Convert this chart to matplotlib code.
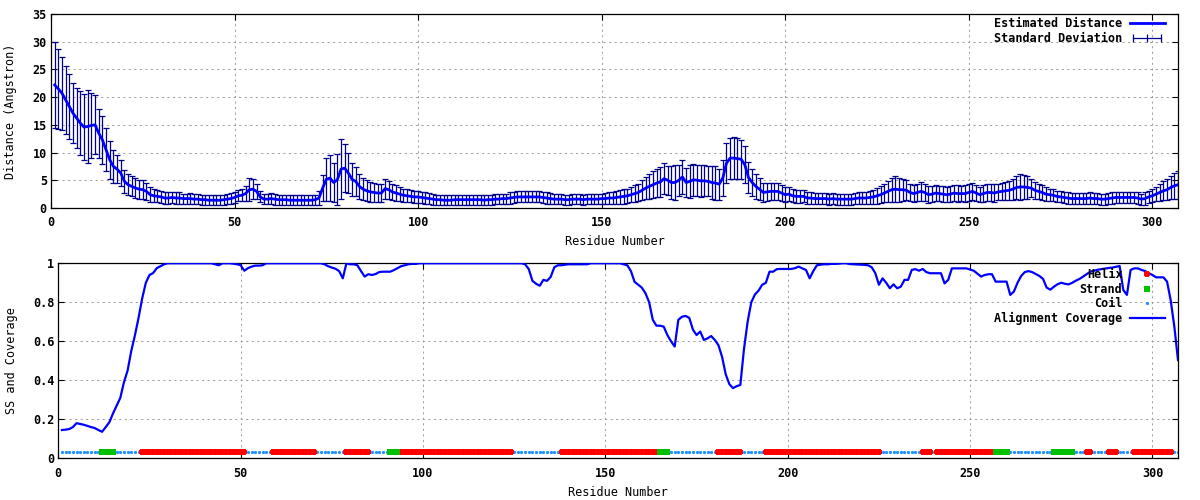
import numpy as np
import matplotlib
matplotlib.use("Agg")
import matplotlib.pyplot as plt
from matplotlib.lines import Line2D
from matplotlib.legend_handler import HandlerLine2D
from matplotlib.ticker import FuncFormatter, MultipleLocator

plt.rcParams['font.family'] = ['DejaVu Sans Mono']
plt.rcParams['font.weight'] = 'bold'
plt.rcParams['font.size'] = 8.5

# estimated distance per residue (Angstrom), residues 1..307
distance = [
    22.2, 21.5, 20.7, 19.5, 18.3, 17.1, 16.2, 15.3, 14.6, 14.7,
    14.9, 15.0, 13.5, 12.3, 10.5, 8.7, 7.5, 7.0, 6.3, 4.8,
    4.2, 3.9, 3.6, 3.4, 3.3, 3.0, 2.4, 2.2, 2.1, 2.0,
    1.8, 1.8, 1.9, 1.8, 1.8, 1.7, 1.7, 1.7, 1.6, 1.6,
    1.5, 1.5, 1.4, 1.4, 1.4, 1.4, 1.5, 1.6, 1.7, 1.9,
    2.2, 2.3, 2.6, 3.3, 3.4, 3.0, 2.0, 1.6, 1.6, 1.7,
    1.6, 1.5, 1.5, 1.5, 1.4, 1.4, 1.4, 1.4, 1.4, 1.4,
    1.4, 1.5, 1.8, 3.6, 5.2, 5.4, 4.6, 5.1, 7.0, 7.2,
    6.3, 5.2, 4.8, 3.9, 3.4, 3.1, 2.9, 2.8, 2.7, 2.7,
    3.5, 3.3, 2.9, 2.7, 2.5, 2.3, 2.2, 2.1, 2.0, 2.0,
    1.9, 1.8, 1.7, 1.6, 1.5, 1.5, 1.4, 1.4, 1.4, 1.5,
    1.5, 1.5, 1.5, 1.5, 1.5, 1.5, 1.5, 1.4, 1.5, 1.5,
    1.6, 1.6, 1.7, 1.7, 1.8, 1.9, 2.0, 2.0, 2.0, 2.0,
    2.0, 2.0, 2.0, 1.9, 1.8, 1.7, 1.6, 1.6, 1.6, 1.5,
    1.5, 1.6, 1.6, 1.6, 1.5, 1.6, 1.6, 1.6, 1.6, 1.7,
    1.7, 1.8, 1.8, 1.9, 2.0, 2.1, 2.2, 2.4, 2.6, 2.8,
    3.2, 3.6, 3.9, 4.2, 4.5, 4.7, 5.3, 5.0, 4.6, 4.6,
    5.0, 5.6, 4.6, 4.8, 5.1, 5.0, 4.9, 4.9, 4.8, 4.6,
    4.5, 4.3, 5.4, 8.1, 9.0, 9.0, 8.9, 8.8, 7.8, 5.5,
    4.6, 3.9, 3.4, 2.8, 2.9, 3.0, 3.0, 3.0, 2.7, 2.4,
    2.5, 2.2, 2.1, 2.1, 2.1, 1.8, 1.8, 1.7, 1.7, 1.7,
    1.7, 1.6, 1.7, 1.6, 1.6, 1.6, 1.6, 1.6, 1.7, 1.8,
    1.8, 1.8, 1.9, 2.0, 2.2, 2.4, 2.7, 3.0, 3.3, 3.4,
    3.3, 3.3, 3.2, 2.8, 2.6, 2.8, 3.0, 2.8, 2.4, 2.5,
    2.7, 2.6, 2.5, 2.4, 2.5, 2.7, 2.6, 2.6, 2.6, 2.8,
    3.0, 2.7, 2.4, 2.6, 2.8, 2.8, 2.7, 2.9, 3.0, 3.1,
    3.2, 3.4, 3.7, 3.8, 3.8, 3.7, 3.6, 3.2, 3.0, 2.8,
    2.5, 2.4, 2.3, 2.1, 2.0, 1.9, 1.8, 1.7, 1.7, 1.7,
    1.7, 1.7, 1.8, 1.7, 1.7, 1.6, 1.6, 1.7, 1.8, 1.9,
    1.9, 1.9, 1.9, 1.9, 1.9, 1.8, 1.6, 1.7, 2.0, 2.2,
    2.5, 2.8, 3.1, 3.3, 3.7, 4.0, 4.2,
]

# standard deviation per residue
std_dev = [
    7.7, 7.2, 6.6, 6.1, 5.9, 5.4, 5.4, 5.8, 5.9, 6.6,
    5.9, 5.3, 4.4, 4.3, 3.9, 3.4, 3.0, 2.5, 2.4, 2.1,
    1.9, 1.8, 1.8, 1.7, 1.7, 1.5, 1.3, 1.2, 1.1, 1.1,
    1.0, 1.0, 1.0, 1.0, 1.0, 0.9, 0.9, 1.0, 0.9, 0.9,
    0.9, 0.9, 0.9, 0.9, 0.9, 0.9, 0.9, 0.9, 1.0, 1.0,
    1.0, 1.1, 1.4, 2.1, 1.8, 1.3, 1.0, 0.9, 0.9, 1.0,
    1.0, 0.9, 0.9, 0.9, 0.9, 0.9, 0.9, 0.9, 0.9, 0.9,
    0.9, 0.9, 1.2, 2.3, 3.9, 4.1, 3.5, 4.6, 5.4, 4.3,
    3.6, 3.0, 2.6, 2.3, 2.0, 1.9, 1.8, 1.7, 1.6, 1.6,
    1.8, 1.6, 1.5, 1.4, 1.3, 1.2, 1.2, 1.1, 1.1, 1.1,
    1.0, 1.0, 1.0, 1.0, 0.9, 0.9, 0.9, 0.9, 0.9, 0.9,
    0.9, 0.9, 0.9, 0.9, 0.9, 0.9, 0.9, 0.9, 0.9, 0.9,
    0.9, 0.9, 0.9, 0.9, 1.0, 1.0, 1.0, 1.0, 1.0, 1.0,
    1.0, 1.0, 1.0, 1.0, 1.0, 1.0, 0.9, 0.9, 0.9, 0.9,
    0.9, 0.9, 0.9, 0.9, 0.9, 0.9, 0.9, 0.9, 0.9, 0.9,
    1.0, 1.0, 1.1, 1.1, 1.2, 1.3, 1.3, 1.4, 1.5, 1.6,
    1.8, 2.0, 2.2, 2.4, 2.5, 2.7, 2.8, 2.6, 3.0, 3.2,
    2.8, 3.0, 2.7, 3.0, 2.9, 2.8, 2.9, 2.8, 2.7, 2.9,
    3.0, 2.8, 3.3, 3.6, 3.7, 3.8, 3.7, 3.5, 3.3, 2.8,
    2.5, 2.2, 2.0, 1.8, 1.7, 1.6, 1.6, 1.5, 1.4, 1.3,
    1.3, 1.2, 1.2, 1.2, 1.1, 1.1, 1.1, 1.0, 1.0, 1.0,
    1.0, 1.0, 1.0, 1.0, 1.0, 1.0, 1.0, 1.0, 1.0, 1.0,
    1.1, 1.1, 1.2, 1.3, 1.4, 1.5, 1.7, 1.9, 2.2, 2.3,
    2.2, 2.0, 1.8, 1.6, 1.5, 1.6, 1.7, 1.6, 1.5, 1.5,
    1.5, 1.4, 1.5, 1.4, 1.4, 1.5, 1.5, 1.4, 1.5, 1.6,
    1.6, 1.5, 1.4, 1.5, 1.5, 1.6, 1.6, 1.5, 1.6, 1.6,
    1.7, 1.9, 2.1, 2.3, 2.2, 2.0, 1.7, 1.5, 1.4, 1.3,
    1.2, 1.1, 1.1, 1.0, 1.0, 1.0, 1.0, 1.0, 1.0, 1.0,
    1.0, 1.0, 1.0, 1.0, 1.0, 1.0, 1.0, 1.0, 1.0, 1.0,
    1.0, 1.0, 1.0, 1.0, 1.0, 1.0, 1.0, 1.1, 1.1, 1.2,
    1.3, 1.5, 1.7, 1.9, 2.1, 2.3, 2.5,
]

# alignment coverage per residue
coverage = [
    .145, .147, .150, .160, .180, .176, .172, .166, .160, .155,
    .145, .136, .160, .185, .230, .270, .310, .390, .450, .550,
    .630, .720, .820, .900, .940, .950, .975, .985, .995, 1.0,
    1.0, 1.0, 1.0, 1.0, 1.0, 1.0, 1.0, 1.0, 1.0, 1.0,
    1.0, 1.0, .995, .990, 1.0, 1.0, 1.0, .998, .995, .990,
    .962, .975, .983, .988, .988, .990, 1.0, 1.0, 1.0, 1.0,
    1.0, 1.0, 1.0, 1.0, 1.0, 1.0, 1.0, 1.0, 1.0, 1.0,
    1.0, 1.0, .995, .985, .978, .972, .960, .923, 1.0, .995,
    .995, .990, .960, .932, .944, .940, .945, .955, .957, .957,
    .957, .965, .975, .985, .990, .995, .997, .997, 1.0, 1.0,
    1.0, 1.0, 1.0, 1.0, 1.0, 1.0, 1.0, 1.0, 1.0, 1.0,
    1.0, 1.0, 1.0, 1.0, 1.0, 1.0, 1.0, 1.0, 1.0, 1.0,
    1.0, 1.0, 1.0, 1.0, 1.0, 1.0, 1.0, .995, .970, .910,
    .895, .885, .915, .910, .930, .980, .990, .990, .993, .995,
    .995, .995, .995, .995, .995, 1.0, 1.0, 1.0, 1.0, 1.0,
    1.0, 1.0, 1.0, 1.0, .995, .990, .960, .905, .890, .875,
    .846, .800, .710, .680, .680, .675, .632, .600, .573, .710,
    .726, .730, .720, .660, .632, .650, .607, .615, .627, .607,
    .580, .520, .430, .380, .360, .370, .376, .560, .700, .800,
    .840, .860, .890, .900, .957, .957, .970, .971, .971, .971,
    .971, .975, .983, .974, .966, .923, .960, .990, .993, .995,
    .995, .997, .997, .998, 1.0, 1.0, .996, .995, .994, .993,
    .992, .990, .980, .950, .890, .923, .900, .872, .892, .872,
    .880, .915, .915, .966, .970, .962, .971, .955, .949, .949,
    .949, .949, .897, .915, .974, .974, .974, .974, .974, .968,
    .962, .947, .932, .940, .944, .944, .906, .906, .906, .906,
    .838, .855, .900, .935, .955, .960, .955, .945, .935, .920,
    .875, .865, .880, .893, .900, .895, .892, .900, .911, .920,
    .932, .945, .957, .962, .967, .970, .973, .976, .978, .982,
    .986, .863, .838, .966, .974, .974, .966, .960, .949, .940,
    .928, .928, .928, .906, .810, .675, .504,
]

# secondary structure as (type, run length): H helix, E strand, C coil
ss_runs = [
    ("C", 11), ("E", 4), ("C", 7), ("H", 29), ("C", 7), ("H", 12), ("C", 8),
    ("H", 7), ("C", 5), ("E", 3), ("H", 31), ("C", 13), ("H", 27), ("E", 3),
    ("C", 13), ("H", 7), ("C", 6), ("H", 32), ("C", 11), ("H", 3), ("C", 1),
    ("H", 16), ("E", 4), ("C", 12), ("E", 6), ("C", 3), ("H", 2), ("C", 4),
    ("H", 3), ("C", 4), ("H", 11), ("C", 2),
]
ss_level = 0.03

residues = np.arange(1, len(distance) + 1)
ss = np.array([t for t, n in ss_runs for _ in range(n)])

fig = plt.figure(figsize=(12, 5), dpi=100)
ax1 = fig.add_axes([51 / 1200, 1 - 208 / 500, 1127 / 1200, 194 / 500])
ax2 = fig.add_axes([58.3 / 1200, 1 - 458.3 / 500, 1119.7 / 1200, 195 / 500])

navy = '#00008b'
blue = '#0000ff'

# top: distance with error bars
ax1.errorbar(residues, distance, yerr=std_dev, fmt='none', ecolor=navy,
             elinewidth=0.9, capsize=2.2, capthick=0.9, zorder=2)
ax1.plot(residues, distance, color=blue, lw=2.0, zorder=3)
ax1.set_xlim(0, 307)
ax1.set_ylim(0, 35)
ax1.yaxis.set_major_locator(MultipleLocator(5))
ax1.set_ylabel("Distance (Angstron)")
ax1.yaxis.set_label_coords(-0.03, 0.5)
ax1.set_xlabel("Residue Number")
ax1.xaxis.set_label_coords(0.5, -0.14)

h_line = Line2D([], [], color=blue, lw=2.0)
h_err = Line2D([], [], color=navy, lw=0.9, marker='|', markersize=6,
               markeredgewidth=0.9)
ax1.legend([h_line, h_err], ["Estimated Distance", "Standard Deviation"],
           loc='upper right', bbox_to_anchor=(1 - 13 / 1127, 1 - 3 / 194),
           frameon=False, markerfirst=False, handlelength=3.0,
           handletextpad=0.6, labelspacing=0.2, borderpad=0, borderaxespad=0,
           handler_map={h_err: HandlerLine2D(numpoints=3)})

# bottom: secondary structure and coverage
is_c = ss == "C"
is_h = ss == "H"
is_e = ss == "E"
coil = ax2.plot(residues[is_c], np.full(is_c.sum(), ss_level), linestyle='none',
                marker='o', markersize=1.3, color='#1e90ff', zorder=2)[0]
helix = ax2.plot(residues[is_h], np.full(is_h.sum(), ss_level), linestyle='none',
                 marker='+', markersize=4.6, markeredgewidth=2.8, color='#ff0000', zorder=3)[0]
strand = ax2.plot(residues[is_e], np.full(is_e.sum(), ss_level), linestyle='none',
                  marker='s', markersize=4.3, color='#00c000', markeredgewidth=0, zorder=3)[0]
cov = ax2.plot(residues, coverage, color=blue, lw=1.6, zorder=4)[0]
ax2.set_xlim(0, 307)
ax2.set_ylim(0, 1)
ax2.yaxis.set_major_locator(MultipleLocator(0.2))
ax2.set_ylabel("SS and Coverage")
ax2.yaxis.set_label_coords(-0.036, 0.5)
ax2.set_xlabel("Residue Number")
ax2.xaxis.set_label_coords(0.5, -0.14)

ax2.legend([helix, strand, coil, cov], ["Helix", "Strand", "Coil", "Alignment Coverage"],
           loc='upper right', bbox_to_anchor=(1 - 13 / 1119.7, 1 - 5 / 195),
           frameon=False, markerfirst=False, handlelength=3.0,
           handletextpad=0.6, labelspacing=0.12, borderpad=0, borderaxespad=0)

fmt = FuncFormatter(lambda v, p: "%g" % v)
for ax in (ax1, ax2):
    ax.xaxis.set_major_locator(MultipleLocator(50))
    ax.yaxis.set_major_formatter(fmt)
    ax.tick_params(direction='in', length=4, width=0.8, top=True, right=True)
    ax.tick_params(axis='x', pad=6)
    ax.tick_params(axis='y', pad=3)
    ax.grid(True, color='#a0a0a0', linestyle=(0, (2, 3.3)), linewidth=0.75)
    ax.set_axisbelow(True)
    for s in ax.spines.values():
        s.set_linewidth(0.9)

fig.savefig("out.png", dpi=100)
